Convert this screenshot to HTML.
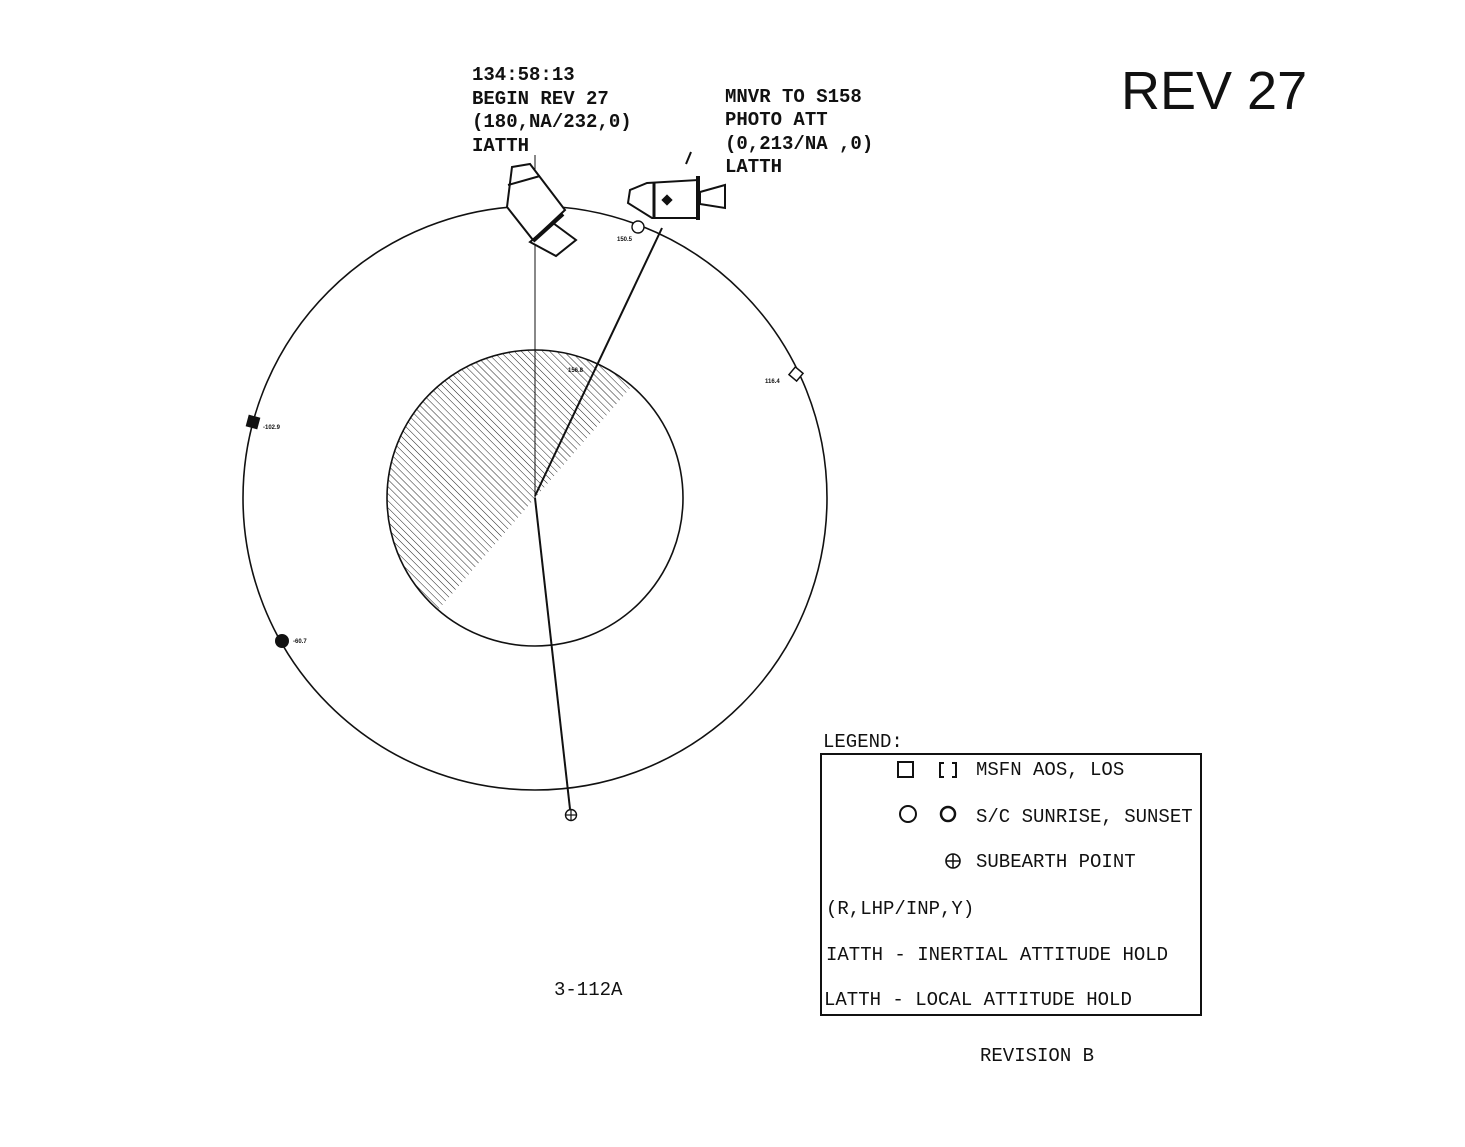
<!DOCTYPE html>
<html><head><style>
body{margin:0;background:#fff;}
svg{display:block}
.t{font-family:"Liberation Mono",monospace;font-weight:bold;font-size:19px;fill:#111}
.l{font-family:"Liberation Mono",monospace;font-size:19px;fill:#111}
.s{font-family:"Liberation Sans",sans-serif;font-size:6px;font-weight:bold;fill:#111}
</style></head><body>
<svg width="1465" height="1147" viewBox="0 0 1465 1147" xmlns="http://www.w3.org/2000/svg">
<defs>
<pattern id="h" width="5" height="5" patternUnits="userSpaceOnUse" patternTransform="rotate(-45)">
<line x1="0" y1="0" x2="0" y2="5" stroke="#222" stroke-width="1"/>
</pattern>
</defs>
<text x="1121" y="109" font-family="Liberation Sans,sans-serif" font-size="54" fill="#111">REV 27</text>
<circle cx="535" cy="498" r="292" fill="none" stroke="#111" stroke-width="1.6"/>
<path d="M632 386 A148 148 0 0 0 438 610 Z" fill="url(#h)"/>
<circle cx="535" cy="498" r="148" fill="none" stroke="#111" stroke-width="1.6"/>
<line x1="535" y1="155" x2="535" y2="498" stroke="#111" stroke-width="1"/>
<line x1="535" y1="496" x2="662" y2="228" stroke="#111" stroke-width="2"/>
<line x1="535" y1="498" x2="570" y2="809" stroke="#111" stroke-width="2"/>
<circle cx="571" cy="815" r="5.5" fill="#fff" stroke="#111" stroke-width="1.4"/>
<line x1="565.5" y1="815" x2="576.5" y2="815" stroke="#111" stroke-width="1.2"/>
<line x1="571" y1="809.5" x2="571" y2="820.5" stroke="#111" stroke-width="1.2"/>
<rect x="247" y="416" width="12" height="12" fill="#111" transform="rotate(15 253 422)"/>
<text class="s" x="263" y="429">-102.9</text>
<circle cx="282" cy="641" r="7" fill="#111"/>
<text class="s" x="293" y="643">-60.7</text>
<rect x="791" y="369" width="10" height="10" fill="#fff" stroke="#111" stroke-width="1.5" transform="rotate(40 796 374)"/>
<text class="s" x="765" y="383">116.4</text>
<circle cx="638" cy="227" r="6" fill="#fff" stroke="#111" stroke-width="1.4"/>
<text class="s" x="617" y="241">150.5</text>
<text class="s" x="568" y="372">156.8</text>
<g stroke="#111" stroke-width="2" fill="#fff">
<polygon points="512,167 530,164 565,210 533,240 507,207"/>
<polygon points="530,242 553,223 576,240 556,256"/>
<line x1="533" y1="241" x2="563" y2="214" stroke-width="4"/>
<line x1="508" y1="185" x2="540" y2="176"/>
</g>
<g stroke="#111" stroke-width="2" fill="#fff">
<polygon points="647,183 698,180 698,218 652,218 628,203 630,190"/>
<polygon points="700,192 725,185 725,208 700,204"/>
<line x1="698" y1="176" x2="698" y2="220" stroke-width="4"/>
<line x1="654" y1="183" x2="654" y2="218" stroke-width="3"/>
<line x1="691" y1="152" x2="686" y2="164"/>
<rect x="664" y="197" width="6" height="6" fill="#111" transform="rotate(45 667 200)"/>
</g>
<text class="t" x="472" y="80">134:58:13</text>
<text class="t" x="472" y="104">BEGIN REV 27</text>
<text class="t" x="472" y="127">(180,NA/232,0)</text>
<text class="t" x="472" y="151">IATTH</text>
<text class="t" x="725" y="102">MNVR TO S158</text>
<text class="t" x="725" y="125">PHOTO ATT</text>
<text class="t" x="725" y="149">(0,213/NA ,0)</text>
<text class="t" x="725" y="172">LATTH</text>
<text class="l" x="823" y="747">LEGEND:</text>
<rect x="821" y="754" width="380" height="261" fill="none" stroke="#111" stroke-width="2"/>
<rect x="898" y="762" width="15" height="15" fill="none" stroke="#111" stroke-width="2"/>
<path d="M944 763 H940 V777 H944 M952 763 H956 V777 H952" fill="none" stroke="#111" stroke-width="2"/>
<text class="l" x="976" y="775">MSFN AOS, LOS</text>
<circle cx="908" cy="814" r="8" fill="none" stroke="#111" stroke-width="2"/>
<circle cx="948" cy="814" r="7" fill="none" stroke="#111" stroke-width="2.5"/>
<text class="l" x="976" y="822">S/C SUNRISE, SUNSET</text>
<circle cx="953" cy="861" r="7" fill="none" stroke="#111" stroke-width="1.6"/>
<line x1="946" y1="861" x2="960" y2="861" stroke="#111" stroke-width="1.5"/>
<line x1="953" y1="854" x2="953" y2="868" stroke="#111" stroke-width="1.5"/>
<text class="l" x="976" y="867">SUBEARTH POINT</text>
<text class="l" x="826" y="914">(R,LHP/INP,Y)</text>
<text class="l" x="826" y="960">IATTH - INERTIAL ATTITUDE HOLD</text>
<text class="l" x="824" y="1005">LATTH - LOCAL ATTITUDE HOLD</text>
<text class="l" x="554" y="995">3-112A</text>
<text class="l" x="980" y="1061">REVISION B</text>
</svg>
</body></html>
